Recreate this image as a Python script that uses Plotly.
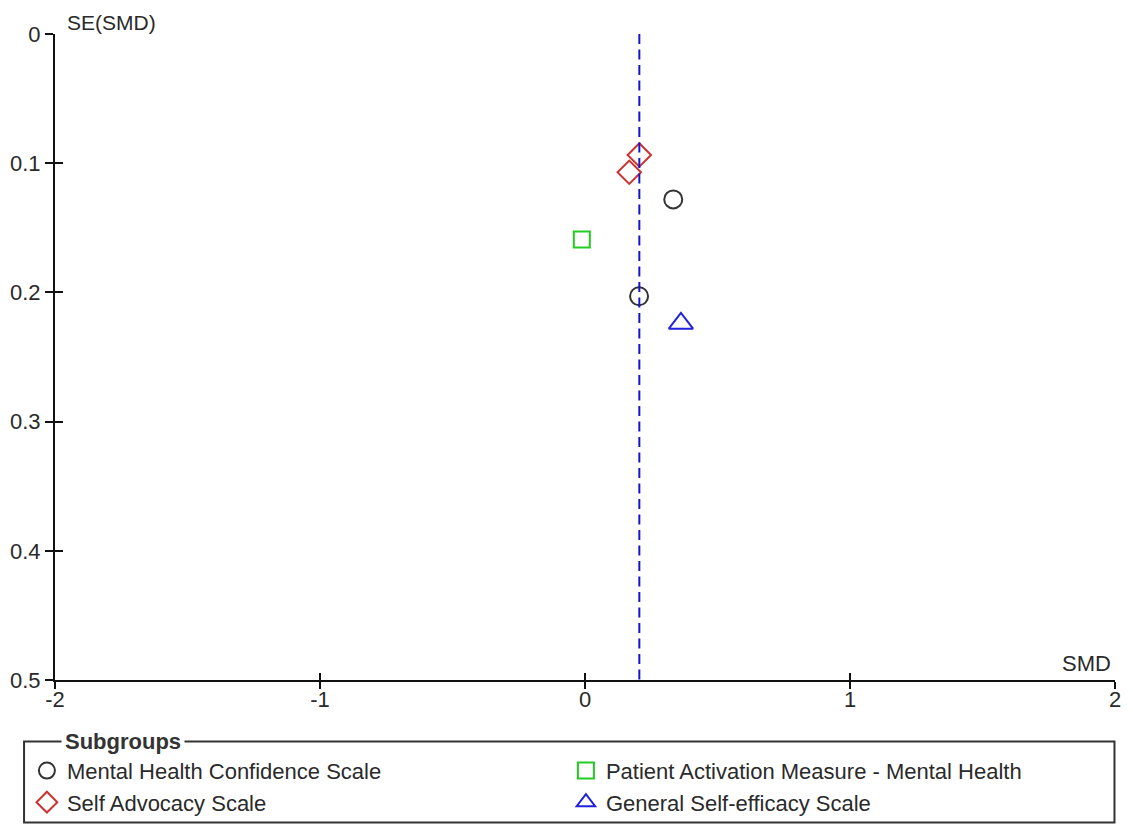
import plotly.graph_objects as go

# ---- data ----
mhc_smd = [0.333, 0.204]
mhc_se = [0.128, 0.203]
pam_smd = [-0.012]
pam_se = [0.159]
sas_smd = [0.205, 0.167]
sas_se = [0.0936, 0.107]
gse_smd = [0.362]
gse_se = [0.224]
pooled_smd = 0.205
se_range = [0, 0.5]
x_ticks = [-2, -1, 0, 1, 2]
x_tick_text = ["-2", "-1", "0", "1", "2"]
y_ticks = [0, 0.1, 0.2, 0.3, 0.4, 0.5]
y_tick_text = ["0", "0.1", "0.2", "0.3", "0.4", "0.5"]

FONT = "Liberation Sans, Arial, sans-serif"
TXT = "#2a2a2a"
FS = 22

fig = go.Figure()
fig.add_trace(go.Scatter(x=mhc_smd, y=mhc_se, mode="markers", name="Mental Health Confidence Scale",
                         marker=dict(symbol="circle-open", size=18, color="#333333", line=dict(width=2))))
fig.add_trace(go.Scatter(x=pam_smd, y=pam_se, mode="markers", name="Patient Activation Measure - Mental Health",
                         marker=dict(symbol="square-open", size=16, color="#22cc22", line=dict(width=2))))
fig.add_trace(go.Scatter(x=sas_smd, y=sas_se, mode="markers", name="Self Advocacy Scale",
                         marker=dict(symbol="diamond-open", size=18, color="#cc3333", line=dict(width=2))))
fig.add_trace(go.Scatter(x=gse_smd, y=gse_se, mode="markers", name="General Self-efficacy Scale",
                         marker=dict(symbol="triangle-up-open", size=21, color="#2222dd", line=dict(width=2))))
fig.add_trace(go.Scatter(x=[pooled_smd, pooled_smd], y=se_range, mode="lines", showlegend=False,
                         line=dict(color="#1515cc", width=2, dash="10px,5.5px"),
                         xaxis="x2", yaxis="y2", hoverinfo="skip"))

common_x = dict(range=[-2, 2], tickvals=x_ticks, showgrid=False, zeroline=False)
common_y = dict(range=[0.5, 0], tickvals=y_ticks, showgrid=False, zeroline=False)

fig.update_layout(
    width=1125, height=817,
    margin=dict(l=47, r=18, t=26, b=144.5, autoexpand=False),
    plot_bgcolor="white", paper_bgcolor="white",
    font=dict(family=FONT, size=FS, color=TXT),
    xaxis=dict(**common_x, ticktext=x_tick_text, showline=True, linecolor="#111111", linewidth=2,
               ticks="outside", ticklen=7, tickwidth=1.5, tickcolor="#111111",
               tickfont=dict(size=FS, color=TXT), ticklabelstandoff=-8),
    yaxis=dict(**common_y, ticktext=y_tick_text, showline=True, linecolor="#111111", linewidth=2,
               ticks="outside", ticklen=8, tickwidth=1.5, tickcolor="#111111",
               tickfont=dict(size=FS, color=TXT), ticklabelstandoff=0),
    xaxis2=dict(**common_x, overlaying="x", anchor="y2", side="bottom", showline=False,
                ticks="inside", ticklen=7, tickwidth=1.5, tickcolor="#111111", showticklabels=False),
    yaxis2=dict(**common_y, overlaying="y", anchor="x2", side="left", showline=False,
                ticks="inside", ticklen=8, tickwidth=1.5, tickcolor="#111111", showticklabels=False),
    legend=dict(orientation="h", entrywidth=494, entrywidthmode="pixels",
                x=-0.0265, xanchor="left", y=-0.108, yanchor="top",
                font=dict(size=22, color=TXT), bgcolor="rgba(0,0,0,0)", traceorder="normal"),
    showlegend=True,
)

# legend frame (fieldset style)
fig.add_shape(type="rect", xref="paper", yref="paper", x0=-0.0292, x1=0.9995, y0=-0.2204, y1=-0.0951,
              line=dict(color="#333333", width=2), fillcolor="rgba(0,0,0,0)", layer="below")
fig.add_annotation(text="<b>Subgroups</b>", xref="paper", yref="paper", x=0.006, y=-0.0951,
                   xanchor="left", yanchor="middle", showarrow=False, bgcolor="white",
                   borderpad=3, font=dict(size=FS, color="#333333", family=FONT))
fig.add_annotation(text="SE(SMD)", xref="paper", yref="paper", x=0.0095, y=1.0, yshift=12,
                   xanchor="left", yanchor="middle", showarrow=False,
                   font=dict(size=21, color=TXT, family=FONT))
fig.add_annotation(text="SMD", xref="paper", yref="paper", x=0.9985, y=0.0, yshift=2,
                   xanchor="right", yanchor="bottom", showarrow=False,
                   font=dict(size=FS, color=TXT, family=FONT))

fig.write_html("out.html")
